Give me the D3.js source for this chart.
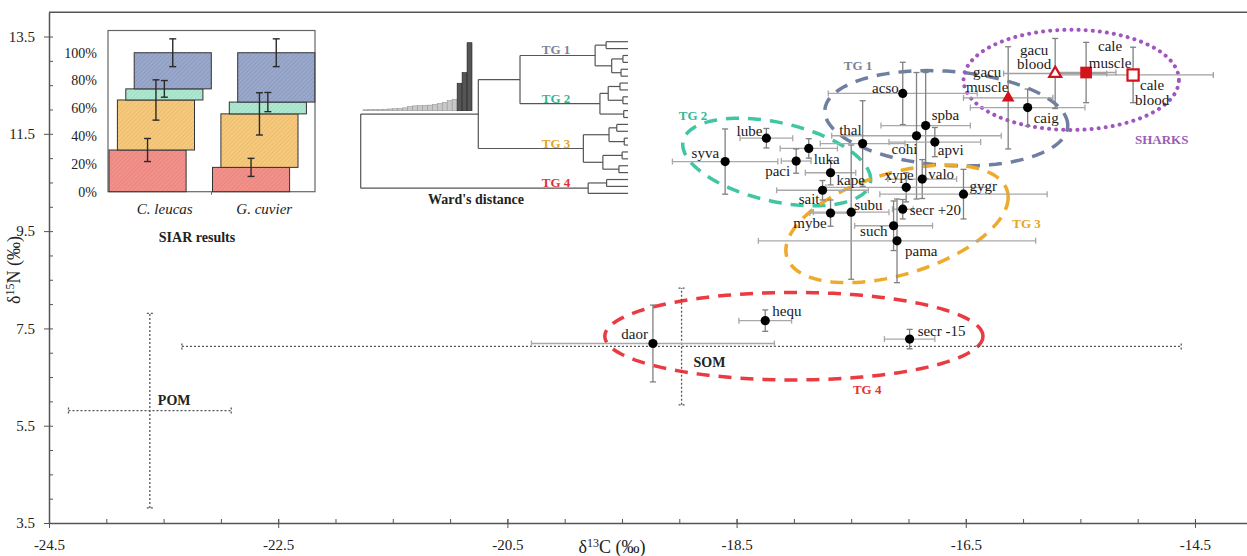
<!DOCTYPE html>
<html>
<head>
<meta charset="utf-8">
<script src="https://cdn.jsdelivr.net/npm/d3@7"></script>
<style>
  body { margin: 0; background: #fff; }
  svg { display: block; font-family: "Liberation Serif", "Times New Roman", serif; }
  svg text { font-family: "Liberation Serif", "Times New Roman", serif; }
</style>
</head>
<body>
<svg id="chart" width="1247" height="556"></svg>
<script>
// ---------------- data ----------------
var xTicksMajor = [-24.5, -22.5, -20.5, -18.5, -16.5, -14.5];
var yTicksMajor = [3.5, 5.5, 7.5, 9.5, 11.5, 13.5];

// prey species: mean d13C, d15N and standard deviations
var preyCodes = ["acso", "spba", "cohi", "apvi", "thal", "caig", "syva", "lube", "luka", "paci", "kape", "sait",
                 "mybe", "subu", "xype", "valo", "gygr", "secr +20", "such", "pama", "daor", "hequ", "secr -15"];
var preyC   = [-17.05, -16.85, -16.93, -16.77, -17.40, -15.96, -18.60, -18.24, -17.87, -17.98, -17.68, -17.75,
               -17.68, -17.50, -17.02, -16.88, -16.52, -17.05, -17.13, -17.10, -19.23, -18.25, -16.99];
var preyN   = [12.33, 11.67, 11.46, 11.33, 11.30, 12.04, 10.93, 11.41, 11.20, 10.94, 10.70, 10.34,
               9.87, 9.89, 10.40, 10.57, 10.26, 9.95, 9.61, 9.30, 7.19, 7.66, 7.28];
var preyCsd = [0.65, 0.39, 0.74, 0.40, 0.37, 0.50, 0.46, 0.23, 0.25, 0.13, 0.22, 0.40,
               0.18, 0.33, 0.70, 0.30, 0.73, 0.09, 0.34, 1.21, 1.06, 0.23, 0.22];
var preyNsd = [0.64, 1.09, 1.30, 0.30, 0.88, 0.38, 0.67, 0.20, 0.20, 0.25, 0.25, 0.20,
               0.27, 1.38, 0.30, 0.40, 0.51, 0.20, 0.51, 0.86, 0.79, 0.22, 0.20];

// sharks
var sharkLabels = ["gacu muscle", "gacu blood", "cale muscle", "cale blood"];
var sharkC   = [-16.13, -15.72, -15.45, -15.04];
var sharkN   = [12.24, 12.74, 12.76, 12.71];
var sharkCsd = [0.39, 0.45, 0.26, 0.70];
var sharkNsd = [1.05, 0.72, 0.62, 0.57];

// organic matter sources
var sourceNames = ["POM", "SOM"];
var sourceC   = [-23.62, -18.98];
var sourceN   = [5.81, 7.13];
var sourceCsd = [0.71, 4.36];
var sourceNsd = [2.0, 1.2];

// trophic group ellipses (centre, spread, correlation) and label spots
var groupNames  = ["TG 1", "TG 2", "TG 3", "TG 4", "SHARKS"];
var groupC      = [-16.67, -18.15, -17.10, -18.0, -15.58];
var groupN      = [11.82, 10.92, 9.65, 7.34, 12.61];
var groupCsd    = [1.06, 0.82, 0.97, 1.65, 0.94];
var groupNsd    = [0.98, 0.90, 1.21, 0.90, 1.03];
var groupRho    = [-0.15, -0.4, 0.45, 0, 0];
var groupLabelC = [-17.44, -18.88, -15.97, -17.36, -14.79];
var groupLabelN = [12.91, 11.87, 9.65, 6.25, 11.39];

// SIAR inset: stacked source proportions (%) and their spread
var siarSpecies   = ["C. leucas", "G. cuvier"];
var siarTicks     = [0, 20, 40, 60, 80, 100];
var siarLeucas    = [30, 36, 8, 26];
var siarCuvier    = [17.5, 38.5, 8.5, 35.5];
var siarLeucasErr = [8.3, 14.5, 6, 10];
var siarCuvierErr = [6.5, 15.2, 6.9, 10];

// Ward dendrogram: [height, child, child]; leaves are species codes
var tg1Tree = [12.3, [8.2, "acso", "caig"], [6.1, [1.9, "spba", "cohi"], [2.6, "apvi", "thal"]]];
var tg2Tree = [10.5, [7.4, [3.0, "syva", "lube"], [1.9, "luka", "paci"]], [1.6, "kape", "sait"]];
var tg3Tree = [16.7, [7.1, [4.2, "mybe", "subu"], [1.4, "xype", "valo"]], [9.4, [2.2, "gygr", "secr +20"], [3.4, "such", "pama"]]];
var tg4Tree = [14.9, [8.0, "daor", "hequ"], "secr -15"];

// ---------------- styles ----------------
var groupColor = ["#6f7fa1", "#40c6a2", "#eeaa2c", "#ea3a42", "#a155c0"];
var groupText  = ["#7c8398", "#38b595", "#e6a42a", "#e4303a", "#9a5cb4"];
var sharkRed = "#d3121c";

// label offsets (dx, dy to text middle, anchor)
var labelPos = {
  "acso": [-4, -6, "end"], "spba": [6, -11, "start"], "cohi": [-12, 13, "middle"], "apvi": [3, 8, "start"],
  "thal": [-1, -14, "end"], "caig": [6, 10, "start"], "syva": [-6, -9, "end"], "lube": [-4, -7, "end"],
  "luka": [5, 10, "start"], "paci": [-6, 10, "end"], "kape": [6, 7, "start"], "sait": [-3, 8, "end"],
  "mybe": [-4, 10, "end"], "subu": [3, -7, "start"], "xype": [-7, -13, "middle"], "valo": [6, -5, "start"],
  "gygr": [6, -8, "start"], "secr +20": [7, 1, "start"], "such": [-6, 5, "end"], "pama": [8, 10, "start"],
  "daor": [-5, -10, "end"], "hequ": [7, -10, "start"], "secr -15": [8, -8, "start"]
};
var sharkLabelPos = [[-21, -26, -11], [-21, -24, -10], [24, -27, -10], [19, 10, 25]];

var svg = d3.select("#chart");

// ---------------- main scales ----------------
var x = d3.scaleLinear().domain([-24.5, -14.046]).range([49, 1247]);
var y = d3.scaleLinear().domain([3.5, 14.0]).range([523, 12.2]);

// frame top
svg.append("line").attr("x1", x.range()[0]).attr("x2", x.range()[1])
  .attr("y1", y(14.0)).attr("y2", y(14.0)).attr("stroke", "#555").attr("stroke-width", 1.5);

// minor ticks
var xMinor = d3.range(-24.5, -14.0, 0.5);
var yMinor = d3.range(3.5, 14.0, 0.5);
svg.append("g").attr("transform", "translate(0," + y(3.5) + ")")
  .call(d3.axisBottom(x).tickValues(xMinor).tickSize(-4).tickFormat(""))
  .call(function (g) { g.select(".domain").remove(); g.selectAll("line").attr("stroke", "#555"); });
svg.append("g").attr("transform", "translate(" + x(-24.5) + ",0)")
  .call(d3.axisLeft(y).tickValues(yMinor).tickSize(-4).tickFormat(""))
  .call(function (g) { g.select(".domain").remove(); g.selectAll("line").attr("stroke", "#555"); });

// major axes
var xAxis = svg.append("g").attr("transform", "translate(0," + y(3.5) + ")")
  .call(d3.axisBottom(x).tickValues(xTicksMajor).tickSizeInner(5).tickSizeOuter(0).tickPadding(11)
    .tickFormat(function (d) { return d.toFixed(1); }));
xAxis.selectAll(".tick line").attr("y1", -4);
var yAxis = svg.append("g").attr("transform", "translate(" + x(-24.5) + ",0)")
  .call(d3.axisLeft(y).tickValues(yTicksMajor).tickSizeInner(5).tickSizeOuter(0).tickPadding(9)
    .tickFormat(function (d) { return d.toFixed(1); }));
[xAxis, yAxis].forEach(function (g) {
  g.attr("font-family", null).attr("font-size", null);
  g.select(".domain").attr("stroke", "#555").attr("stroke-width", 1.5);
  g.selectAll(".tick line").attr("stroke", "#555");
  g.selectAll("text").style("font-family", "'Liberation Serif', serif").style("font-size", "15px").attr("fill", "#222");
});

// axis titles
var xt = svg.append("text").attr("x", 612).attr("y", 553).attr("text-anchor", "middle")
  .attr("font-size", 18).attr("fill", "#222");
xt.append("tspan").text("δ");
xt.append("tspan").text("13").attr("font-size", 12).attr("dy", -6);
xt.append("tspan").text("C (‰)").attr("dy", 6);
var yt = svg.append("text").attr("transform", "translate(20,270) rotate(-90)").attr("text-anchor", "middle")
  .attr("font-size", 18).attr("fill", "#222");
yt.append("tspan").text("δ");
yt.append("tspan").text("15").attr("font-size", 12).attr("dy", -6);
yt.append("tspan").text("N (‰)").attr("dy", 6);

// ---------------- group ellipses ----------------
var angles = d3.range(0, 2 * Math.PI, Math.PI / 60);
var ellipseLine = d3.line().curve(d3.curveLinearClosed);
groupNames.forEach(function (g, i) {
  var r = groupRho[i], s = Math.sqrt(1 - r * r);
  var pts = angles.map(function (t) {
    var c = groupC[i] + groupCsd[i] * Math.cos(t);
    var n = groupN[i] + groupNsd[i] * (r * Math.cos(t) + s * Math.sin(t));
    return [x(c), y(n)];
  });
  var path = svg.append("path").attr("d", ellipseLine(pts)).attr("fill", "none").attr("stroke", groupColor[i]);
  if (g === "SHARKS") {
    path.attr("stroke-width", 4).attr("stroke-dasharray", "0.1,7").attr("stroke-linecap", "round");
  } else {
    path.attr("stroke-width", 3.5).attr("stroke-dasharray", "13,9");
  }
  svg.append("text").attr("x", x(groupLabelC[i])).attr("y", y(groupLabelN[i])).attr("dy", "0.35em")
    .attr("text-anchor", "middle").attr("font-weight", "bold").attr("font-size", 13)
    .attr("fill", groupText[i]).text(g);
});

// ---------------- error bars ----------------
function errorBars(c, n, csd, nsd, opt) {
  var g = svg.append("g").attr("stroke", opt.color).attr("stroke-width", opt.width)
    .attr("stroke-dasharray", opt.dash || null).attr("fill", "none");
  var cap = 3;
  c.forEach(function (cv, i) {
    var px = x(cv), py = y(n[i]);
    var x0 = x(cv - csd[i]), x1 = x(cv + csd[i]);
    var y0 = y(n[i] - nsd[i]), y1 = y(n[i] + nsd[i]);
    g.append("line").attr("x1", x0).attr("x2", x1).attr("y1", py).attr("y2", py).attr("stroke", opt.hcolor || opt.color);
    g.append("line").attr("x1", x0).attr("x2", x0).attr("y1", py - cap).attr("y2", py + cap).attr("stroke", opt.hcolor || opt.color);
    g.append("line").attr("x1", x1).attr("x2", x1).attr("y1", py - cap).attr("y2", py + cap).attr("stroke", opt.hcolor || opt.color);
    g.append("line").attr("x1", px).attr("x2", px).attr("y1", y0).attr("y2", y1);
    g.append("line").attr("x1", px - cap).attr("x2", px + cap).attr("y1", y0).attr("y2", y0);
    g.append("line").attr("x1", px - cap).attr("x2", px + cap).attr("y1", y1).attr("y2", y1);
  });
}
errorBars(sourceC, sourceN, sourceCsd, sourceNsd, { color: "#555", width: 1.3, dash: "2,2" });
errorBars(preyC, preyN, preyCsd, preyNsd, { color: "#808080", hcolor: "#a8a8a8", width: 1.3 });
errorBars(sharkC, sharkN, sharkCsd, sharkNsd, { color: "#808080", hcolor: "#a0a0a0", width: 1.3 });

// source labels
svg.append("text").attr("x", x(sourceC[0]) + 8).attr("y", y(sourceN[0]) - 11).attr("dy", "0.35em")
  .attr("font-weight", "bold").attr("font-size", 14).attr("fill", "#222").text(sourceNames[0]);
svg.append("text").attr("x", x(sourceC[1]) + 12).attr("y", y(sourceN[1]) + 16).attr("dy", "0.35em")
  .attr("font-weight", "bold").attr("font-size", 14).attr("fill", "#222").text(sourceNames[1]);

// ---------------- prey points ----------------
svg.append("g").selectAll("circle").data(preyCodes).join("circle")
  .attr("cx", function (d, i) { return x(preyC[i]); })
  .attr("cy", function (d, i) { return y(preyN[i]); })
  .attr("r", 4.6).attr("fill", "#000");
svg.append("g").selectAll("text").data(preyCodes).join("text")
  .attr("x", function (d, i) { return x(preyC[i]) + labelPos[d][0]; })
  .attr("y", function (d, i) { return y(preyN[i]) + labelPos[d][1]; })
  .attr("dy", "0.35em").attr("text-anchor", function (d) { return labelPos[d][2]; })
  .attr("font-size", 15).attr("fill", "#1a1a1a").text(function (d) { return d; });

// ---------------- shark points ----------------
var sharkSym = [d3.symbolTriangle, d3.symbolTriangle, d3.symbolSquare, d3.symbolSquare];
var sharkSize = [70, 62, 137, 125];
var sharkFilled = [true, false, true, false];
sharkLabels.forEach(function (lab, i) {
  svg.append("path")
    .attr("d", d3.symbol(sharkSym[i], sharkSize[i])())
    .attr("transform", "translate(" + x(sharkC[i]) + "," + y(sharkN[i]) + ")")
    .attr("fill", sharkFilled[i] ? sharkRed : "#fff")
    .attr("stroke", sharkRed).attr("stroke-width", sharkFilled[i] ? 0 : 2.2);
  var parts = lab.split(" ");
  parts.forEach(function (p, k) {
    svg.append("text").attr("x", x(sharkC[i]) + sharkLabelPos[i][0])
      .attr("y", y(sharkN[i]) + sharkLabelPos[i][k + 1]).attr("dy", "0.35em")
      .attr("text-anchor", "middle").attr("font-size", 15).attr("fill", "#1a1a1a").text(p);
  });
});

// ---------------- SIAR inset ----------------
var siar = svg.append("g");
var defs = svg.append("defs");
var siarFill = ["#f29189", "#f6c97c", "#aee8d0", "#9aa8cc"];
var siarHatch = ["#c8605a", "#c8984a", "#78c0a4", "#5c6c98"];
siarFill.forEach(function (c, i) {
  var p = defs.append("pattern").attr("id", "hatch" + i).attr("patternUnits", "userSpaceOnUse")
    .attr("width", 3).attr("height", 3).attr("patternTransform", "rotate(45)");
  p.append("rect").attr("width", 3).attr("height", 3).attr("fill", c);
  p.append("line").attr("x1", 0).attr("y1", 0).attr("x2", 0).attr("y2", 3)
    .attr("stroke", siarHatch[i]).attr("stroke-width", 1).attr("stroke-opacity", 0.45);
});
var sb = d3.scaleBand().domain(siarSpecies).range([108, 315]);
var sy = d3.scaleLinear().domain([0, 116]).range([191.7, 30.5]);
siar.append("rect").attr("x", 108).attr("y", sy(116)).attr("width", 207).attr("height", sy(0) - sy(116))
  .attr("fill", "#fff").attr("stroke", "#666").attr("stroke-width", 1.2);
siar.append("line").attr("x1", sb("G. cuvier")).attr("x2", sb("G. cuvier")).attr("y1", sy(0)).attr("y2", sy(0) + 3)
  .attr("stroke", "#666");
siar.selectAll(".lab").data(siarTicks).join("text")
  .attr("x", 97).attr("y", function (d) { return sy(d); }).attr("dy", "0.35em").attr("text-anchor", "end")
  .attr("font-size", 14).attr("fill", "#222").text(function (d) { return d + "%"; });
[[siarLeucas, siarLeucasErr], [siarCuvier, siarCuvierErr]].forEach(function (set, si) {
  var vals = set[0], errs = set[1];
  var tops = d3.cumsum(vals);
  var x0 = sb(siarSpecies[si]);
  var w = sb.bandwidth() * 0.745;
  vals.forEach(function (v, i) {
    var rx = x0 + 1 + i * 8.4;
    siar.append("rect").attr("x", rx).attr("y", sy(tops[i])).attr("width", w)
      .attr("height", sy(tops[i] - v) - sy(tops[i]))
      .attr("fill", "url(#hatch" + i + ")").attr("stroke", "#333").attr("stroke-width", 1);
  });
  vals.forEach(function (v, i) {
    var cx = x0 + 1 + i * 8.4 + w / 2;
    var lo = sy(tops[i] - errs[i]), hi = sy(tops[i] + errs[i]);
    siar.append("line").attr("x1", cx).attr("x2", cx).attr("y1", lo).attr("y2", hi).attr("stroke", "#2a2a2a").attr("stroke-width", 1.4);
    siar.append("line").attr("x1", cx - 3.5).attr("x2", cx + 3.5).attr("y1", lo).attr("y2", lo).attr("stroke", "#2a2a2a").attr("stroke-width", 1.4);
    siar.append("line").attr("x1", cx - 3.5).attr("x2", cx + 3.5).attr("y1", hi).attr("y2", hi).attr("stroke", "#2a2a2a").attr("stroke-width", 1.4);
  });
  siar.append("text").attr("x", x0 + sb.bandwidth() / 2 + (si === 0 ? 5 : 1)).attr("y", 214)
    .attr("text-anchor", "middle").attr("font-style", "italic").attr("font-size", 15).attr("fill", "#222")
    .text(siarSpecies[si]);
});
siar.append("text").attr("x", 197).attr("y", 242).attr("text-anchor", "middle").attr("font-weight", "bold")
  .attr("font-size", 14).attr("fill", "#222").text("SIAR results");

// ---------------- Ward dendrogram inset ----------------
var dendro = svg.append("g");
var fullTree = [100, [56, [40.4, tg1Tree, tg2Tree], tg3Tree], tg4Tree];
var leafY = d3.scaleLinear().domain([0, 22]).range([41.7, 193.3]);
var dx = d3.scaleLinear().domain([0, 100]).range([628, 360.7]);
var leafCount = 0, mergeHeights = [];
function layout(node) {
  if (typeof node === "string") return { h: 0, y: leafY(leafCount++), name: node };
  var kids = node.slice(1).map(layout);
  mergeHeights.push(node[0]);
  return { h: node[0], y: (kids[0].y + kids[kids.length - 1].y) / 2, kids: kids, src: node };
}
var root = layout(fullTree);
function drawNode(n) {
  if (!n.kids) return;
  dendro.append("line").attr("x1", dx(n.h)).attr("x2", dx(n.h))
    .attr("y1", n.kids[0].y).attr("y2", n.kids[n.kids.length - 1].y);
  n.kids.forEach(function (k) {
    dendro.append("line").attr("x1", dx(n.h)).attr("x2", dx(k.h)).attr("y1", k.y).attr("y2", k.y);
    drawNode(k);
  });
}
dendro.attr("stroke", "#555").attr("stroke-width", 1.2);
drawNode(root);
// cluster labels
var clusterTrees = [tg1Tree, tg2Tree, tg3Tree, tg4Tree];
function findNode(n, src) {
  if (n.src === src) return n;
  if (!n.kids) return null;
  for (var i = 0; i < n.kids.length; i++) { var f = findNode(n.kids[i], src); if (f) return f; }
  return null;
}
clusterTrees.forEach(function (t, i) {
  var n = findNode(root, t);
  svg.append("text").attr("x", 556).attr("y", n.y - 1).attr("text-anchor", "middle")
    .attr("font-weight", "bold").attr("font-size", 13).attr("fill", groupText[i]).text(groupNames[i]);
});
// scree of sorted merge distances
var sorted = mergeHeights.slice().sort(d3.ascending);
var scx = d3.scaleBand().domain(d3.range(sorted.length)).range([363, 472]);
var sch = d3.scaleLinear().domain([0, 100]).range([0, 68]);
svg.append("g").selectAll("rect").data(sorted).join("rect")
  .attr("x", function (d, i) { return scx(i); })
  .attr("y", function (d) { return 110.7 - sch(d); })
  .attr("width", scx.bandwidth())
  .attr("height", function (d) { return sch(d); })
  .attr("fill", function (d, i) { return i >= sorted.length - 3 ? "#555" : "#c8c8c8"; })
  .attr("stroke", function (d, i) { return i >= sorted.length - 3 ? "#222" : "#999"; })
  .attr("stroke-width", 0.6);
svg.append("text").attr("x", 476).attr("y", 204).attr("text-anchor", "middle").attr("font-weight", "bold")
  .attr("font-size", 14).attr("fill", "#222").text("Ward's distance");
</script>
</body>
</html>
